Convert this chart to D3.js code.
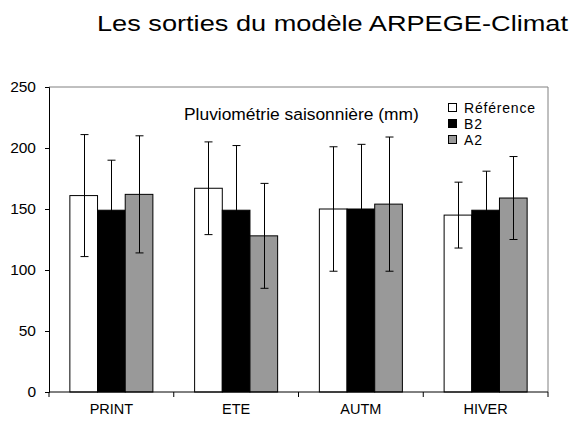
<!DOCTYPE html>
<html>
<head>
<meta charset="utf-8">
<script src="https://cdn.jsdelivr.net/npm/d3@7"></script>
<style>
  html, body { margin: 0; padding: 0; background: #ffffff; }
  svg { display: block; font-family: "Liberation Sans", Arial, Helvetica, sans-serif; }
</style>
</head>
<body>
<svg id="chart" width="570" height="423"></svg>
<script>
// Seasonal rainfall (mm) from the ARPEGE-Climat model
const categories = ["PRINT", "ETE", "AUTM", "HIVER"];
const seriesNames = ["Référence", "B2", "A2"];
const referenceValues = [161, 167, 150, 145];
const b2Values = [149, 149, 150, 149];
const a2Values = [162, 128, 154, 159];
// half-width of the error bars
const referenceErrors = [50, 38, 51, 27];
const b2Errors = [41, 53, 53, 32];
const a2Errors = [48, 43, 55, 34];
const yTicks = [0, 50, 100, 150, 200, 250];

const fills = ["#ffffff", "#000000", "#999999"];
const values = [referenceValues, b2Values, a2Values];
const errors = [referenceErrors, b2Errors, a2Errors];

const svg = d3.select("#chart");
const plot = { left: 49, right: 548, top: 87, bottom: 392 };

const x0 = d3.scaleBand().domain(categories).range([plot.left, plot.right]).padding(0);
const x1 = d3.scaleBand().domain(seriesNames).range([0, x0.bandwidth()])
  .paddingInner(0).paddingOuter(0.754);
const y = d3.scaleLinear().domain([0, 250]).range([plot.bottom, plot.top]);

// title
svg.append("text")
  .attr("x", 97).attr("y", 31)
  .attr("font-size", 22)
  .attr("textLength", 471)
  .attr("lengthAdjust", "spacingAndGlyphs")
  .attr("fill", "#000")
  .text("Les sorties du modèle ARPEGE-Climat");

// plot frame (top and right)
svg.append("path")
  .attr("d", `M${plot.left},${plot.top}H${plot.right}V${plot.bottom}`)
  .attr("fill", "none").attr("stroke", "#808080").attr("stroke-width", 1);

// bars
const rows = [];
categories.forEach((c, i) => {
  seriesNames.forEach((s, j) => {
    rows.push({ cat: c, series: s, j, value: values[j][i], err: errors[j][i] });
  });
});

svg.append("g").selectAll("rect.bar").data(rows).join("rect")
  .attr("class", "bar")
  .attr("x", d => x0(d.cat) + x1(d.series))
  .attr("y", d => y(d.value))
  .attr("width", x1.bandwidth())
  .attr("height", d => y(0) - y(d.value))
  .attr("fill", d => fills[d.j])
  .attr("stroke", "#000").attr("stroke-width", 1);

// error bars
const capHalf = 4;
const eb = svg.append("g").attr("stroke", "#000").attr("stroke-width", 1).attr("fill", "none");
eb.selectAll("path").data(rows).join("path")
  .attr("d", d => {
    const cx = Math.round(x0(d.cat) + x1(d.series) + x1.bandwidth() / 2) + 0.5;
    const yt = y(d.value + d.err), yb = y(d.value - d.err);
    return `M${cx},${yt}V${yb}M${cx - capHalf},${yt}H${cx + capHalf}M${cx - capHalf},${yb}H${cx + capHalf}`;
  });

// y axis
const yAxis = svg.append("g")
  .attr("transform", `translate(${plot.left},0)`)
  .call(d3.axisLeft(y).tickValues(yTicks).tickSize(4).tickPadding(9));
yAxis.select(".domain").attr("stroke", "#000");
yAxis.selectAll("text").attr("font-size", 15.5).attr("fill", "#000")
  .attr("font-family", "'Liberation Sans', Arial, sans-serif");

// x axis: ticks at category boundaries, labels centred on categories
const xAxisG = svg.append("g").attr("transform", `translate(0,${plot.bottom})`);
xAxisG.append("line")
  .attr("x1", plot.left).attr("x2", plot.right)
  .attr("stroke", "#000");
const boundaries = categories.map(c => x0(c)).concat([plot.right]);
xAxisG.selectAll("line.tick").data(boundaries).join("line")
  .attr("class", "tick")
  .attr("x1", d => d).attr("x2", d => d)
  .attr("y1", 0).attr("y2", 5)
  .attr("stroke", "#000");
xAxisG.selectAll("text").data(categories).join("text")
  .attr("x", d => x0(d) + x0.bandwidth() / 2)
  .attr("y", 22)
  .attr("text-anchor", "middle")
  .attr("font-size", 14.5)
  .attr("fill", "#000")
  .text(d => d);

// inner caption
svg.append("text")
  .attr("x", 184).attr("y", 120)
  .attr("font-size", 17.4)
  .attr("fill", "#000")
  .text("Pluviométrie saisonnière (mm)");

// legend
const legend = svg.append("g").attr("transform", "translate(448,103)");
const items = legend.selectAll("g").data(seriesNames).join("g")
  .attr("transform", (d, i) => `translate(0,${i * 16})`);
items.append("rect")
  .attr("x", 0.5).attr("y", 0.5)
  .attr("width", 8).attr("height", 8)
  .attr("fill", (d, i) => fills[i])
  .attr("stroke", "#000");
items.append("text")
  .attr("x", 16).attr("y", 10)
  .attr("font-size", 14)
  .attr("letter-spacing", 0.8)
  .attr("fill", "#000")
  .text(d => d);
</script>
</body>
</html>
